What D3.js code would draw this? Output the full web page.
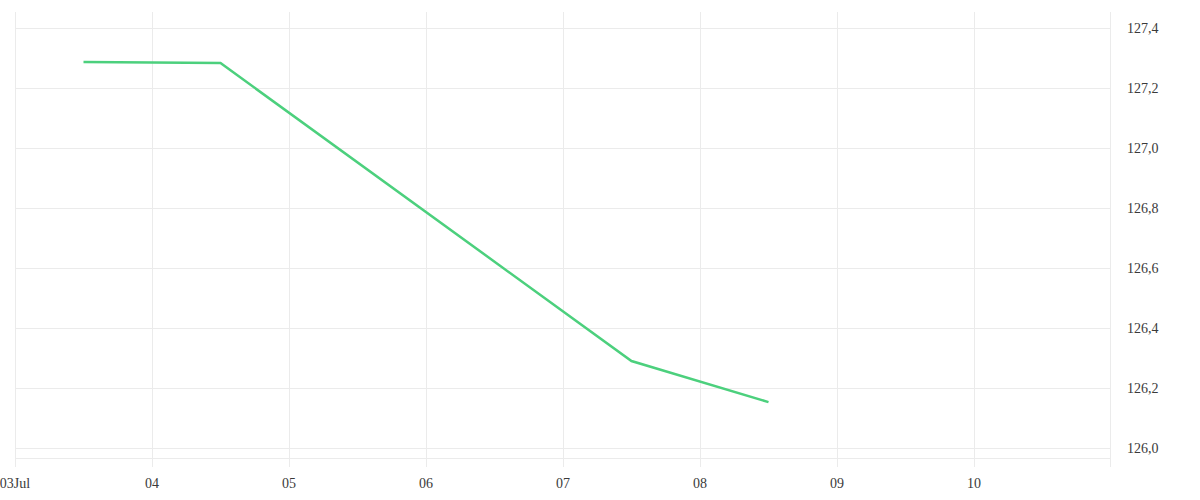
<!DOCTYPE html>
<html><head><meta charset="utf-8">
<script src="https://cdn.jsdelivr.net/npm/d3@7"></script>
<style>body{margin:0;background:#fff}svg{display:block}text{font-family:"Liberation Serif",serif;font-size:14px;fill:#3a3a3a}</style>
</head><body><svg id="c" width="1200" height="500"></svg>
<script>
const dates = ["2024-07-03T12:00","2024-07-04T12:00","2024-07-07T12:00","2024-07-08T12:00"];
const values = [127.287, 127.283, 126.29, 126.153];
const yTicks = [126.0,126.2,126.4,126.6,126.8,127.0,127.2,127.4];
const xTickDates = ["2024-07-03","2024-07-04","2024-07-05","2024-07-06","2024-07-07","2024-07-08","2024-07-09","2024-07-10"];
const xTickLabels = ["03Jul","04","05","06","07","08","09","10"];

const svg = d3.select("#c");
const parse = d3.timeParse("%Y-%m-%dT%H:%M");
const parseD = d3.timeParse("%Y-%m-%d");
const L=15,R=1111,T=12,B=458;
const x = d3.scaleTime().domain([parseD("2024-07-03"),parseD("2024-07-11")]).range([L,R]);
const y = d3.scaleLinear().domain([125.9667,127.4533]).range([B,T]);
const grid = "#ebebeb";
svg.append("g").selectAll("line").data(yTicks).join("line")
  .attr("x1",L).attr("x2",R).attr("y1",d=>Math.round(y(d))+0.5).attr("y2",d=>Math.round(y(d))+0.5)
  .attr("stroke",grid);
svg.append("line").attr("x1",L).attr("x2",R).attr("y1",B+0.5).attr("y2",B+0.5).attr("stroke",grid);
const xt = xTickDates.map(parseD);
svg.append("g").selectAll("line").data(xt).join("line")
  .attr("x1",d=>Math.round(x(d))+0.5).attr("x2",d=>Math.round(x(d))+0.5).attr("y1",T).attr("y2",467)
  .attr("stroke",grid);
svg.append("line").attr("x1",R-0.5).attr("x2",R-0.5).attr("y1",T).attr("y2",467).attr("stroke",grid);
svg.append("g").selectAll("text").data(xt).join("text")
  .attr("x",d=>x(d)).attr("y",488)
  .attr("text-anchor","middle")
  .text((d,i)=>xTickLabels[i]);
svg.append("g").selectAll("text").data(yTicks).join("text")
  .attr("x",1127).attr("y",d=>y(d)+5)
  .text(d=>d.toFixed(1).replace(".",","));
const pts = dates.map((d,i)=>[parse(d),values[i]]);
svg.append("path").datum(pts)
  .attr("fill","none").attr("stroke","#4cd07d").attr("stroke-width",2.5)
  .attr("d",d3.line().x(d=>x(d[0])).y(d=>y(d[1])));
</script></body></html>
